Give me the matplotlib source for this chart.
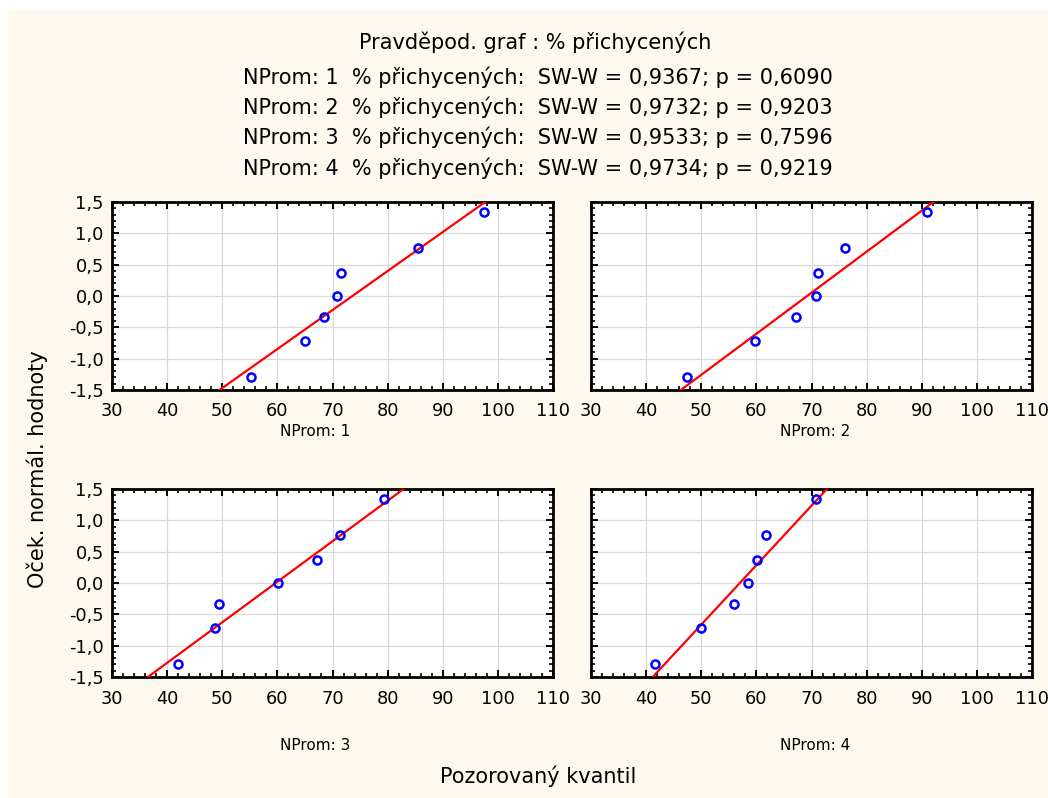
import numpy as np
import matplotlib.pyplot as plt
from matplotlib.ticker import MultipleLocator, FuncFormatter
from matplotlib.patches import Rectangle

# expected normal values (same for every group)
expected = [-1.30, -0.72, -0.33, 0.00, 0.36, 0.76, 1.34]

# observed quantiles (% attached) per group
obs_1 = [55.2, 65.1, 68.4, 70.8, 71.6, 85.6, 97.5]
obs_2 = [47.4, 59.8, 67.1, 70.8, 71.1, 76.1, 90.9]
obs_3 = [42.0, 48.6, 49.5, 60.1, 67.2, 71.3, 79.4]
obs_4 = [41.7, 49.9, 56.0, 58.5, 60.1, 61.8, 70.8]

# fitted normal line: observed value at y = -1.5 and at y = 1.5
line_lo = [49.5, 46.3, 36.5, 41.2]
line_hi = [97.7, 92.1, 82.9, 72.8]

groups = ["NProm: 1", "NProm: 2", "NProm: 3", "NProm: 4"]
sw_w = ["0,9367", "0,9732", "0,9533", "0,9734"]
p_vals = ["0,6090", "0,9203", "0,7596", "0,9219"]

plt.rcParams['font.family'] = ['DejaVu Sans']

W, H = 1048, 798
fig = plt.figure(figsize=(W / 100, H / 100), dpi=100, facecolor='white')
bg = '#fef9ee'
fig.patches.append(Rectangle((8 / W, 0), 1 - 8 / W, 1 - 10 / H,
                             transform=fig.transFigure, facecolor=bg,
                             edgecolor='none', zorder=-10))

def fx(px):
    return px / W

def fy(py):
    return 1 - py / H

# axes boxes in pixels: left, top
boxes = [(112, 202), (591, 202), (112, 489), (591, 489)]
aw, ah = 441, 188
label_pos = [(315, 431), (815, 431), (315, 745), (815, 745)]

comma = FuncFormatter(lambda v, pos: f"{v:.0f}")
comma_y = FuncFormatter(lambda v, pos: f"{v:.1f}".replace('.', ','))

all_obs = [obs_1, obs_2, obs_3, obs_4]
for i, (left, top) in enumerate(boxes):
    ax = fig.add_axes([fx(left), fy(top + ah), aw / W, ah / H])
    ax.set_facecolor('white')
    ax.plot([line_lo[i], line_hi[i]], [-1.5, 1.5], color='red', lw=1.6, zorder=3)
    ax.plot(all_obs[i], expected, 'o', mfc='none', mec='blue', ms=5.8, mew=1.8,
            zorder=4, clip_on=False)
    ax.set_xlim(30, 110)
    ax.set_ylim(-1.5, 1.5)
    ax.xaxis.set_major_locator(MultipleLocator(10))
    ax.xaxis.set_minor_locator(MultipleLocator(2))
    ax.yaxis.set_major_locator(MultipleLocator(0.5))
    ax.yaxis.set_minor_locator(MultipleLocator(0.1))
    ax.xaxis.set_major_formatter(comma)
    ax.yaxis.set_major_formatter(comma_y)
    ax.grid(True, which='major', color='#d8d8d8', lw=0.9)
    ax.set_axisbelow(True)
    ax.tick_params(which='both', direction='in', top=True, right=True,
                   labelsize=12.8, colors='black')
    ax.tick_params(axis='x', pad=9)
    ax.tick_params(axis='y', pad=6)
    ax.tick_params(which='major', length=5, width=1.4)
    ax.tick_params(which='minor', length=3, width=1.2)
    for s in ax.spines.values():
        s.set_linewidth(2.0)
        s.set_color('black')
    if i % 2 == 1:
        ax.tick_params(labelleft=False)
    lx, ly = label_pos[i]
    fig.text(fx(lx), fy(ly), groups[i], ha='center', va='center', fontsize=11)

fig.text(fx(535), fy(42), "Pravděpod. graf : % přichycených",
         ha='center', va='center', fontsize=15)
for i in range(4):
    line = f"{groups[i]}  % přichycených:  SW-W = {sw_w[i]}; p = {p_vals[i]}"
    fig.text(fx(538), fy(77 + 30.3 * i), line, ha='center', va='center',
             fontsize=15)

fig.text(fx(538), fy(776), "Pozorovaný kvantil", ha='center', va='center',
         fontsize=15)
fig.text(fx(37), fy(469), "Oček. normál. hodnoty", ha='center', va='center',
         rotation=90, fontsize=15)

fig.savefig('out.png', dpi=100, facecolor='white')
